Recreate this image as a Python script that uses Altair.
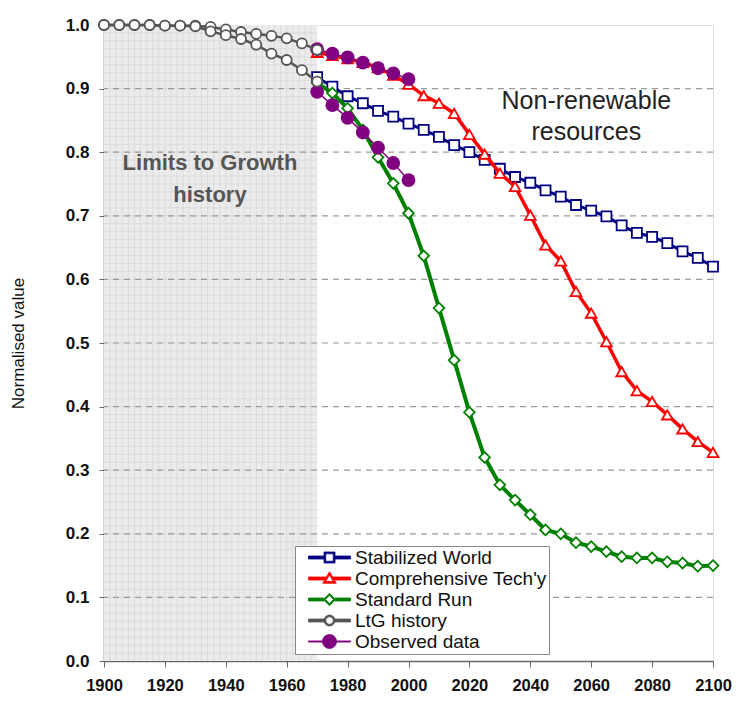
import altair as alt
import pandas as pd

# ---------------- data ----------------
years_hist = [1900, 1905, 1910, 1915, 1920, 1925, 1930, 1935, 1940, 1945, 1950, 1955, 1960, 1965, 1970]
ltg_upper = [1.0, 1.0, 1.0, 1.0, 0.999, 0.999, 0.999, 0.997, 0.993, 0.989, 0.986, 0.983, 0.979, 0.971, 0.961]
ltg_lower = [1.0, 1.0, 1.0, 1.0, 0.999, 0.999, 0.998, 0.990, 0.984, 0.978, 0.969, 0.955, 0.945, 0.929, 0.911]

years_scen = [1970, 1975, 1980, 1985, 1990, 1995, 2000, 2005, 2010, 2015, 2020, 2025, 2030, 2035,
              2040, 2045, 2050, 2055, 2060, 2065, 2070, 2075, 2080, 2085, 2090, 2095, 2100]
stabilized = [0.918, 0.903, 0.888, 0.877, 0.865, 0.856, 0.845, 0.835, 0.824, 0.811, 0.800, 0.788, 0.774, 0.761,
              0.752, 0.740, 0.730, 0.717, 0.708, 0.699, 0.685, 0.673, 0.667, 0.657, 0.644, 0.634, 0.620]
comprehensive = [0.957, 0.952, 0.947, 0.941, 0.933, 0.921, 0.907, 0.889, 0.877, 0.861, 0.828, 0.797, 0.767, 0.746,
                 0.701, 0.654, 0.629, 0.581, 0.547, 0.502, 0.455, 0.425, 0.408, 0.387, 0.365, 0.345, 0.328]
standard = [0.909, 0.893, 0.869, 0.835, 0.792, 0.751, 0.704, 0.637, 0.555, 0.473, 0.391, 0.320, 0.277, 0.253,
            0.230, 0.206, 0.200, 0.186, 0.180, 0.172, 0.164, 0.162, 0.162, 0.156, 0.154, 0.149, 0.150]

years_obs = [1970, 1975, 1980, 1985, 1990, 1995, 2000]
obs_upper = [0.962, 0.955, 0.949, 0.941, 0.932, 0.924, 0.915]
obs_lower = [0.895, 0.874, 0.854, 0.831, 0.807, 0.783, 0.756]

series_names = ["Stabilized World", "Comprehensive Tech'y", "Standard Run", "LtG history", "Observed data"]
series_colors = ["#000080", "#ff0000", "#008000", "#555555", "#800080"]

x_ticks = [1900, 1920, 1940, 1960, 1980, 2000, 2020, 2040, 2060, 2080, 2100]
y_ticks = [0.0, 0.1, 0.2, 0.3, 0.4, 0.5, 0.6, 0.7, 0.8, 0.9, 1.0]
grid_values = [0.1, 0.2, 0.3, 0.4, 0.5, 0.6, 0.7, 0.8, 0.9]

history_span = [1900, 1970]
texture_years = [1902, 1904, 1906, 1908, 1910, 1912, 1914, 1916, 1918, 1920, 1922, 1924, 1926, 1928, 1930,
                 1932, 1934, 1936, 1938, 1940, 1942, 1944, 1946, 1948, 1950, 1952, 1954, 1956, 1958, 1960,
                 1962, 1964, 1966, 1968]
texture_values = [round(0.0125 * i, 4) for i in range(1, 80)]

# ---------------- build tables ----------------
rows = []
def add(series, branch, xs, ys):
    for x, y in zip(xs, ys):
        rows.append({"series": series, "branch": branch, "year": x, "value": y})

add("Stabilized World", "a", years_scen, stabilized)
add("Comprehensive Tech'y", "a", years_scen, comprehensive)
add("Standard Run", "a", years_scen, standard)
add("LtG history", "upper", years_hist, ltg_upper)
add("LtG history", "lower", years_hist, ltg_lower)
add("Observed data", "upper", years_obs, obs_upper)
add("Observed data", "lower", years_obs, obs_lower)
df = pd.DataFrame(rows)

FONT = "Liberation Sans"
W, H = 609, 636

xscale = alt.Scale(domain=[1900, 2100], nice=False, zero=False)
yscale = alt.Scale(domain=[0, 1], nice=False)

x_axis = alt.Axis(values=x_ticks, format="d", title=None, labelFont=FONT, labelFontSize=16.5,
                  labelFontWeight="bold", labelColor="#111", tickSize=6, tickColor="#666",
                  domainColor="#666", domainWidth=1.5, labelPadding=10, labelFlush=False,
                  labelOverlap=False, grid=False)
y_axis = alt.Axis(values=y_ticks, format=".1f", title="Normalised value", labelFont=FONT,
                  labelFontSize=17, labelFontWeight="bold", labelColor="#111", tickSize=5,
                  tickColor="#666", domainColor="#555", domainWidth=1.5, labelPadding=10,
                  labelFlush=False, titleFont=FONT, titleFontSize=17, titleFontWeight="normal",
                  titleColor="#111", titlePadding=38, grid=False)

X = alt.X("year:Q", scale=xscale, axis=x_axis)
Y = alt.Y("value:Q", scale=yscale, axis=y_axis)

# shaded history area
shade_df = pd.DataFrame({"year": [history_span[0]], "year2": [history_span[1]],
                         "value": [0.0], "value2": [1.0]})
shade = alt.Chart(shade_df).mark_rect(color="#ebebeb").encode(
    x=X, x2="year2:Q", y=Y, y2="value2:Q")

tex_v = alt.Chart(pd.DataFrame({"year": texture_years, "value": 0.0, "value2": 1.0})).mark_rule(
    color="#d6d6d6", strokeWidth=0.7).encode(x=X, y=Y, y2="value2:Q")
tex_h = alt.Chart(pd.DataFrame({"value": texture_values, "year": history_span[0],
                                "year2": history_span[1]})).mark_rule(
    color="#d6d6d6", strokeWidth=0.7).encode(y=Y, x=X, x2="year2:Q")

grid = alt.Chart(pd.DataFrame({"value": grid_values})).mark_rule(
    color="#9a9a9a", strokeWidth=1.2, strokeDash=[6, 5]).encode(y=Y)

style = {
    "Stabilized World": dict(shape="square", size=100, lw=3, fill="white", sw=1.8),
    "Comprehensive Tech'y": dict(shape="triangle-up", size=115, lw=3.5, fill="white", sw=1.8),
    "Standard Run": dict(shape="diamond", size=115, lw=4, fill="white", sw=1.8),
    "LtG history": dict(shape="circle", size=100, lw=2.5, fill="white", sw=1.8),
    "Observed data": dict(shape="circle", size=190, lw=1.5, fill="#800080", sw=0),
}

layers = [shade, tex_v, tex_h, grid]
draw_order = ["Stabilized World", "Comprehensive Tech'y", "Standard Run", "Observed data", "LtG history"]
for name in draw_order:
    col = series_colors[series_names.index(name)]
    st = style[name]
    sub = alt.Chart(df).transform_filter(alt.datum.series == name)
    line = sub.mark_line(color=col, strokeWidth=st["lw"]).encode(x=X, y=Y, detail="branch:N")
    pts = sub.mark_point(shape=st["shape"], size=st["size"], filled=True, fill=st["fill"],
                         stroke=col, strokeWidth=st["sw"], opacity=1).encode(x=X, y=Y)
    layers += [line, pts]

# annotations (anchor = first line)
ann_df = pd.DataFrame({"year": [2058.4], "value": [0.8805], "label": ["Non-renewable\nresources"]})
ann = alt.Chart(ann_df).mark_text(font=FONT, fontSize=25, color="#222", lineBreak="\n",
                                  lineHeight=31, align="center", baseline="middle").encode(
    x=X, y=Y, text="label:N")
hist_df = pd.DataFrame({"year": [1934.8], "value": [0.783], "label": ["Limits to Growth\nhistory"]})
hist_txt = alt.Chart(hist_df).mark_text(font=FONT, fontSize=22, fontWeight="bold", color="#555",
                                        lineBreak="\n", lineHeight=32, align="center",
                                        baseline="middle").encode(x=X, y=Y, text="label:N")
layers += [ann, hist_txt]

# legend symbols: line + marker as custom paths (units of 5 px)
p_square = ("M0.4,-0.3H3.6V0.3H0.4Z M5.6,-0.3H8.8V0.3H5.6Z "
            "M3.5,-1.1H5.7V1.1H3.5Z M3.85,-0.75V0.75H5.35V-0.75Z")
p_tri = ("M0.4,-0.3H3.9V0.3H0.4Z M5.3,-0.3H8.8V0.3H5.3Z "
         "M4.6,-1.35L5.95,0.95L3.25,0.95Z M4.6,-0.75L3.85,0.6L5.35,0.6Z")
p_dia = ("M0.4,-0.3H3.5V0.3H0.4Z M5.7,-0.3H8.8V0.3H5.7Z "
         "M4.6,-1.25L5.85,0L4.6,1.25L3.35,0Z M4.6,-0.8L3.8,0L4.6,0.8L5.4,0Z")
p_circ = ("M0.4,-0.3H3.6V0.3H0.4Z M5.6,-0.3H8.8V0.3H5.6Z "
          "M3.5,0A1.1,1.1 0 1,1 5.7,0A1.1,1.1 0 1,1 3.5,0Z "
          "M3.85,0A0.75,0.75 0 1,0 5.35,0A0.75,0.75 0 1,0 3.85,0Z")
p_obs = ("M0.4,-0.12H8.8V0.12H0.4Z "
         "M3.2,0A1.4,1.4 0 1,1 6.0,0A1.4,1.4 0 1,1 3.2,0Z")
legend_paths = [p_square, p_tri, p_dia, p_circ, p_obs]

leg = alt.Legend(title=None, orient="none", legendX=191, legendY=521, direction="vertical",
                 labelFont=FONT, labelFontSize=19, labelColor="#111", labelLimit=400,
                 labelExpr="datum.label + '\u00a0\u00a0\u00a0\u00a0'",
                 symbolSize=100, symbolStrokeWidth=0.8, symbolOpacity=1, labelOffset=39,
                 fillColor="white", strokeColor="#888", padding=2, rowPadding=1)
leg_df = pd.DataFrame({"series": series_names})
legend_layer = alt.Chart(leg_df).mark_point(opacity=0, filled=True).encode(
    shape=alt.Shape("series:N", scale=alt.Scale(domain=series_names, range=legend_paths), legend=leg),
    fill=alt.Fill("series:N", scale=alt.Scale(domain=series_names, range=series_colors), legend=leg),
    stroke=alt.Stroke("series:N", scale=alt.Scale(domain=series_names, range=series_colors), legend=leg),
)
layers.append(legend_layer)

chart = alt.layer(*layers).properties(
    width=W, height=H,
    autosize=alt.AutoSizeParams(type="none"),
    padding={"left": 96, "top": 17, "right": 19, "bottom": 32},
).configure_view(stroke="#8a8a8a", strokeWidth=2).configure(background="white")

chart.save("out.html", embed_options={"renderer": "svg", "actions": False})
